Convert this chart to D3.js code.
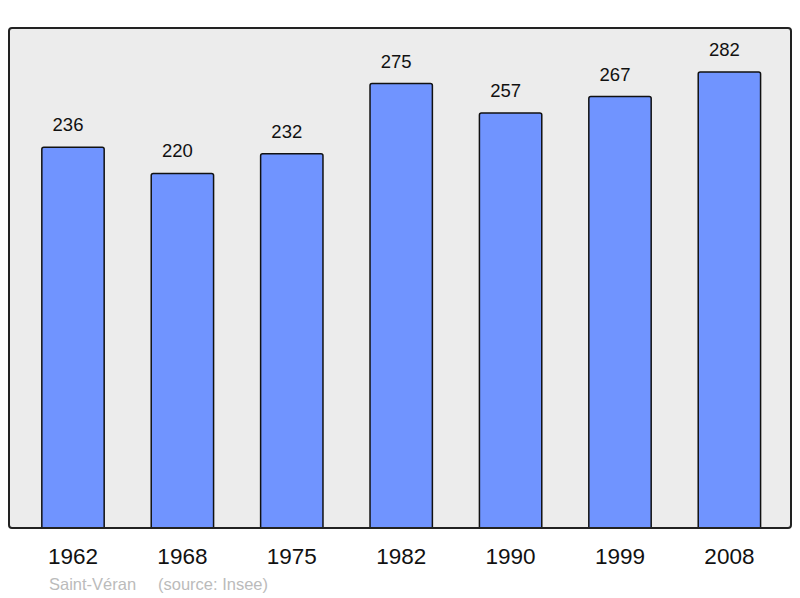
<!DOCTYPE html>
<html>
<head>
<meta charset="utf-8">
<script src="https://cdn.jsdelivr.net/npm/d3@7"></script>
<style>
  body { margin: 0; background: #fff; }
  text { font-family: "Liberation Sans", Arial, sans-serif; }
</style>
</head>
<body>
<svg id="chart" width="800" height="598"></svg>
<script>
let years = ["1962", "1968", "1975", "1982", "1990", "1999", "2008"];
let population = [236, 220, 232, 275, 257, 267, 282];
let place = "Saint-Véran";
let source = "(source: Insee)";

let svg = d3.select("#chart");
let panel = {left: 9, top: 28, right: 791, bottom: 528};

let xScale = d3.scaleBand()
    .domain(years)
    .range([18.3, 784.1])
    .paddingInner(0.43)
    .paddingOuter(0.215);

let yScale = d3.scaleLinear()
    .domain([0, 309])
    .range([532.8, 28]);

// background frame
svg.append("rect")
    .attr("x", panel.left)
    .attr("y", panel.top)
    .attr("width", panel.right - panel.left)
    .attr("height", panel.bottom - panel.top)
    .attr("rx", 3)
    .attr("fill", "#ececec");

svg.append("clipPath").attr("id", "panelClip")
    .append("rect")
    .attr("x", panel.left)
    .attr("y", panel.top)
    .attr("width", panel.right - panel.left)
    .attr("height", panel.bottom - panel.top);

let bars = svg.append("g").attr("clip-path", "url(#panelClip)");

bars.selectAll(".bar")
    .data(population)
    .enter()
    .append("rect")
    .attr("class", "bar")
    .attr("x", (d, i) => xScale(years[i]))
    .attr("y", d => yScale(d))
    .attr("width", xScale.bandwidth())
    .attr("height", d => yScale(0) - yScale(d) + 10)
    .attr("rx", 2)
    .attr("fill", "#7094ff")
    .attr("stroke", "#111")
    .attr("stroke-width", 1.5);

// frame border on top
svg.append("rect")
    .attr("x", panel.left)
    .attr("y", panel.top)
    .attr("width", panel.right - panel.left)
    .attr("height", panel.bottom - panel.top)
    .attr("rx", 3)
    .attr("fill", "none")
    .attr("stroke", "#222")
    .attr("stroke-width", 2);

// value labels sit a little left of the bar centre in the original
svg.selectAll(".valueLabel")
    .data(population)
    .enter()
    .append("text")
    .attr("class", "valueLabel")
    .attr("x", (d, i) => xScale(years[i]) + xScale.bandwidth() / 2 - 5)
    .attr("y", d => yScale(d) - 16)
    .attr("text-anchor", "middle")
    .attr("font-size", 18.5)
    .attr("fill", "#111")
    .text(d => d);

let xAxis = d3.axisBottom(xScale).tickSize(0).tickPadding(0);
let xAxisElement = svg.append("g")
    .attr("transform", "translate(0," + 548 + ")")
    .call(xAxis);
xAxisElement.select(".domain").remove();
xAxisElement.selectAll("text")
    .attr("dy", "0.71em")
    .attr("font-size", 22.5)
    .attr("font-family", "Liberation Sans, Arial, sans-serif")
    .attr("fill", "#111");

svg.append("text")
    .attr("x", 49)
    .attr("y", 590)
    .attr("font-size", 16.5)
    .attr("fill", "#bbb")
    .text(place);

svg.append("text")
    .attr("x", 158)
    .attr("y", 590)
    .attr("font-size", 16.5)
    .attr("fill", "#bbb")
    .text(source);
</script>
</body>
</html>
